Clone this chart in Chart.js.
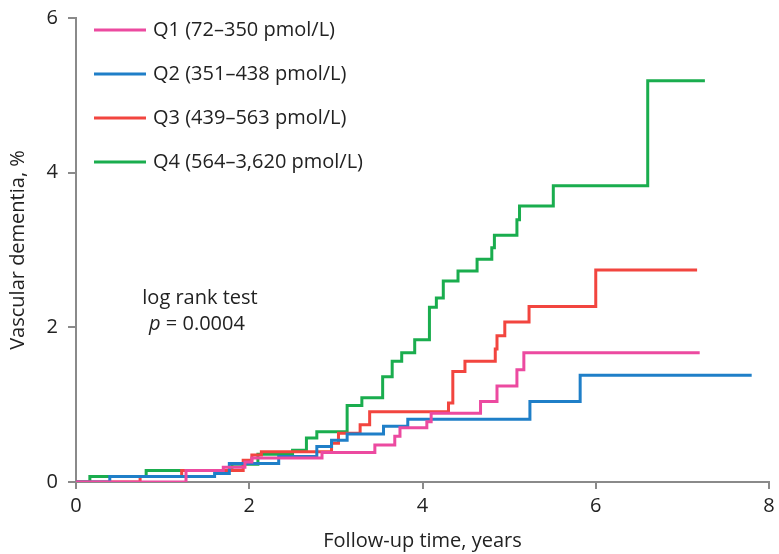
<!DOCTYPE html>
<html lang="en">
<head>
    <meta charset="UTF-8">
    <title>Vascular dementia by quartile</title>
    <script src="https://cdn.jsdelivr.net/npm/chart.js@4.4.1/dist/chart.umd.min.js"></script>
    <style>
        body { margin: 0; background: #fff; }
        #wrap { width: 779px; height: 554px; }
    </style>
</head>
<body>

<div id="wrap"><canvas id="km-chart" width="779" height="554"></canvas></div>

<script>

    const labels = ['Q1 (72\u2013350 pmol/L)', 'Q2 (351\u2013438 pmol/L)',
                    'Q3 (439\u2013563 pmol/L)', 'Q4 (564\u20133,620 pmol/L)'];
    const colors = ['#ec4aa0', '#1f7fc8', '#f2453f', '#1aad4e'];

    // step times (years) and cumulative incidence (%)
    const q1Time = [0, 1.27, 1.70, 1.95, 2.03, 2.84, 3.45, 3.68, 3.74, 4.05, 4.10, 4.67, 4.86, 5.09, 5.17, 7.20];
    const q1Risk = [0, 0.15, 0.19, 0.26, 0.31, 0.38, 0.48, 0.59, 0.70, 0.78, 0.89, 1.04, 1.24, 1.45, 1.67, 1.67];

    const q2Time = [0, 0.39, 1.60, 1.77, 2.34, 2.78, 2.95, 3.13, 3.55, 3.83, 5.24, 5.82, 7.80];
    const q2Risk = [0, 0.07, 0.11, 0.24, 0.33, 0.46, 0.54, 0.62, 0.72, 0.81, 1.04, 1.38, 1.38];

    const q3Time = [0, 0.74, 1.22, 1.93, 2.03, 2.14, 2.95, 3.03, 3.28, 3.39, 4.30, 4.35, 4.49, 4.84, 4.86, 4.95, 5.23, 6.00, 7.17];
    const q3Risk = [0, 0.07, 0.15, 0.28, 0.35, 0.39, 0.50, 0.63, 0.74, 0.91, 1.02, 1.43, 1.56, 1.72, 1.89, 2.07, 2.27, 2.74, 2.74];

    const q4Time = [0, 0.16, 0.81, 1.80, 2.10, 2.50, 2.66, 2.78, 3.13, 3.30, 3.54, 3.65, 3.76, 3.91, 4.08, 4.16, 4.24, 4.41, 4.63, 4.80, 4.83, 5.09, 5.12, 5.51, 6.60, 7.26];
    const q4Risk = [0, 0.07, 0.15, 0.23, 0.36, 0.41, 0.57, 0.65, 0.99, 1.09, 1.36, 1.56, 1.67, 1.84, 2.26, 2.38, 2.60, 2.73, 2.88, 3.03, 3.19, 3.39, 3.57, 3.83, 5.19, 5.19];

    const xTicks = [0, 2, 4, 6, 8];
    const yTicks = [0, 2, 4, 6];

    const fontFamily = '"Open Sans", "Noto Sans", sans-serif';
    const fontSize = 20;
    const axisGray = '#8a8a8a';

    function toPoints(times, risks) {
        return times.map((t, i) => ({x: t, y: risks[i]}));
    }

    const series = [[q1Time, q1Risk], [q2Time, q2Risk], [q3Time, q3Risk], [q4Time, q4Risk]];

    const datasets = series.map((s, i) => ({
        label: labels[i],
        data: toPoints(s[0], s[1]),
        borderColor: colors[i],
        backgroundColor: colors[i],
        borderWidth: 3,
        pointRadius: 0,
        stepped: 'before',
        fill: false
    }));

    // legend and log rank text drawn inside the plot
    const annotations = {
        id: 'annotations',
        afterDatasetsDraw(chart) {
            const ctx = chart.ctx;
            const area = chart.chartArea;
            const font = fontSize + 'px ' + fontFamily;
            ctx.save();
            ctx.font = font;
            ctx.fillStyle = '#222';
            ctx.textBaseline = 'middle';
            labels.forEach((lab, i) => {
                const y = area.top + 12 + i * 44;
                ctx.strokeStyle = colors[i];
                ctx.lineWidth = 3;
                ctx.beginPath();
                ctx.moveTo(area.left + 18, y);
                ctx.lineTo(area.left + 70, y);
                ctx.stroke();
                ctx.textAlign = 'left';
                ctx.fillText(lab, area.left + 77, y);
            });

            ctx.textAlign = 'center';
            ctx.fillText('log rank test', 200, 298);
            const rest = ' = 0.0004';
            const wRest = ctx.measureText(rest).width;
            ctx.font = 'italic ' + font;
            const wP = ctx.measureText('p').width;
            const startX = 197 - (wRest + wP) / 2;
            ctx.textAlign = 'left';
            ctx.fillText('p', startX, 324);
            ctx.font = font;
            ctx.fillText(rest, startX + wP, 324);
            ctx.restore();
        }
    };

    new Chart('km-chart', {
        type: 'line',
        data: {datasets: datasets},
        options: {
            responsive: false,
            animation: false,
            layout: {padding: {top: 18, right: 10, left: 0, bottom: 0}},
            plugins: {
                legend: {display: false},
                tooltip: {enabled: false}
            },
            scales: {
                x: {
                    type: 'linear',
                    min: 0,
                    max: 8,
                    afterBuildTicks: scale => { scale.ticks = xTicks.map(v => ({value: v})); },
                    afterFit: scale => {
                        scale.height = 72;
                        scale.paddingLeft = 0;
                        scale.paddingRight = 0;
                    },
                    border: {color: axisGray, width: 2},
                    grid: {display: true, drawOnChartArea: false, color: axisGray, lineWidth: 2, tickLength: 7},
                    ticks: {color: '#222', padding: 5, font: {family: fontFamily, size: fontSize}},
                    title: {
                        display: true,
                        text: 'Follow-up time, years',
                        color: '#222',
                        padding: {top: 0, bottom: 1},
                        font: {family: fontFamily, size: fontSize}
                    }
                },
                y: {
                    type: 'linear',
                    min: 0,
                    max: 6,
                    afterBuildTicks: scale => { scale.ticks = yTicks.map(v => ({value: v})); },
                    afterFit: scale => {
                        scale.width = 76;
                        scale.paddingTop = 0;
                        scale.paddingBottom = 0;
                    },
                    border: {color: axisGray, width: 2},
                    grid: {display: true, drawOnChartArea: false, color: axisGray, lineWidth: 2, tickLength: 8},
                    ticks: {color: '#222', padding: 10, font: {family: fontFamily, size: fontSize}},
                    title: {
                        display: true,
                        text: 'Vascular dementia, %',
                        color: '#222',
                        padding: {top: 6, bottom: 0},
                        font: {family: fontFamily, size: fontSize}
                    }
                }
            }
        },
        plugins: [annotations]
    });

</script>

</body>
</html>
